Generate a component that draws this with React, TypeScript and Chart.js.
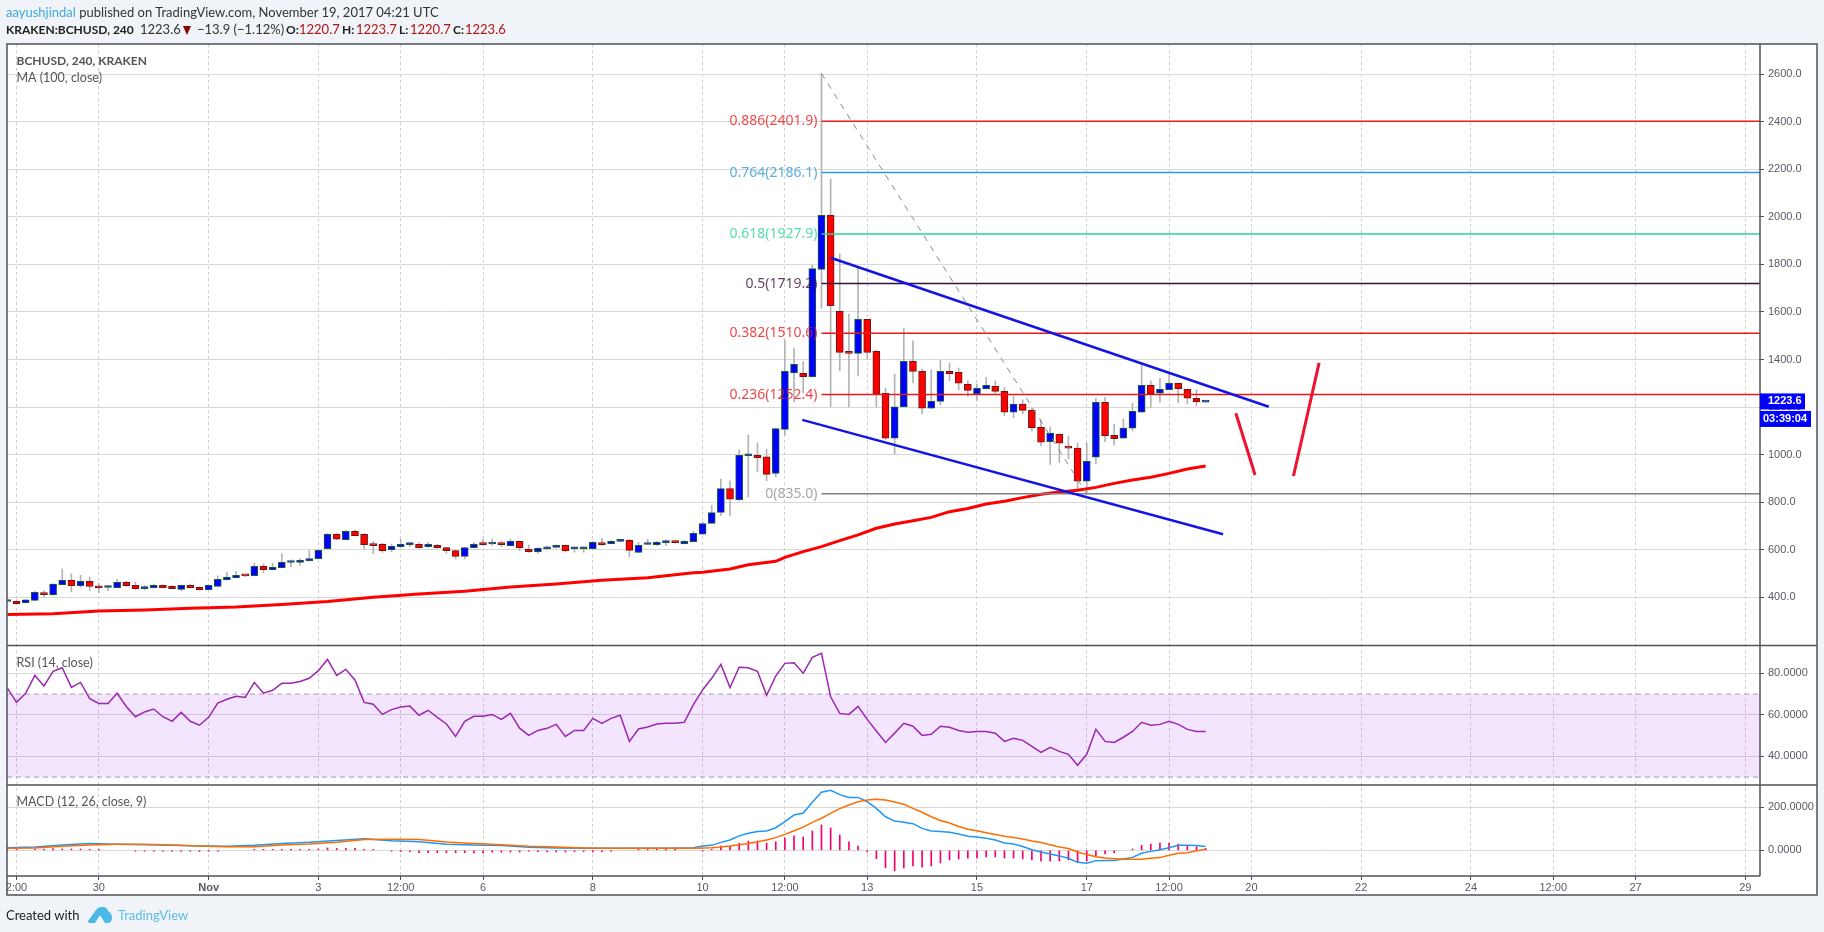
import { useEffect, useRef } from "react";
import { Chart, registerables } from "chart.js";

Chart.register(...registerables);

// candles are 4h bars, index -1 is the partly hidden first one
const firstCandle = -1;
const opens = [382,383,377,387,417,411,453,471,449,467,446,441,440,463,450,436,440,450,446,433,450,442,432,445,474,482,492,491,530,516,524,546,546,554,562,604,665,642,677,665,624,623,600,613,621,623,613,618,609,596,572,609,624,624,630,617,635,602,592,604,610,618,604,604,604,627,625,635,639,588,622,621,630,635,625,634,665,711,757,857,810,995,997,991,921,1106,1344,1342,1328,1779,2006,1603,1430,1426,1569,1434,1258,1069,1201,1392,1350,1195,1224,1350,1346,1296,1256,1277,1287,1266,1178,1212,1186,1115,1054,1085,1031,1027,888,989,1220,1081,1069,1111,1178,1291,1258,1273,1300,1275,1237,1220.7];
const highs = [385,389,390,424,428,456,518,498,492,484,459,450,475,467,464,450,455,453,449,451,455,445,453,490,506,509,493,544,539,544,583,557,562,595,599,669,669,680,683,668,635,627,624,644,630,630,631,623,610,599,610,631,644,645,634,645,637,620,609,616,620,620,610,613,635,648,638,640,644,631,645,635,641,638,638,677,715,787,897,889,1019,1082,1049,1022,1112,1482,1447,1391,1797,2603,2159,1844,1591,1783,1569,1440,1279,1339,1531,1478,1359,1356,1398,1385,1364,1310,1297,1325,1310,1283,1246,1230,1195,1146,1117,1087,1078,1048,1048,1237,1241,1127,1150,1216,1380,1310,1322,1344,1302,1276,1272,1223.7];
const lows = [381,372,376,386,403,408,453,422,442,428,419,428,439,445,433,432,439,439,435,428,439,431,431,443,473,481,487,490,503,515,523,529,534,553,561,603,641,641,658,603,583,588,592,610,613,607,610,606,585,561,561,607,618,618,613,616,596,589,583,602,607,590,590,590,603,618,624,634,571,586,621,617,617,627,624,633,664,710,743,743,806,823,928,890,906,1082,1222,1259,1326,1615,1201,1353,1200,1331,1402,1200,1064,1003,1200,1301,1171,1193,1209,1311,1272,1246,1227,1276,1258,1164,1155,1172,1100,1037,959,966,982,855,835,961,1054,1040,1067,1100,1176,1199,1221,1272,1218,1213,1206,1220.7];
const closes = [384,373,389,421,411,455,471,449,467,445,440,443,463,449,436,443,450,440,436,450,440,432,450,475,485,492,490,530,516,526,547,548,555,563,597,665,644,677,659,621,617,596,614,623,627,609,623,609,596,572,609,623,621,630,621,635,609,592,606,610,618,595,610,610,631,621,635,639,597,618,624,631,632,630,635,669,710,756,857,812,997,999,987,917,1109,1350,1380,1328,1782,2006,1626,1430,1426,1569,1430,1254,1069,1201,1392,1350,1195,1224,1350,1340,1300,1270,1279,1291,1266,1178,1212,1186,1113,1052,1090,1048,1027,888,972,1220,1080,1067,1111,1182,1291,1256,1275,1300,1277,1237,1222,1223.6];

const maIndex = [-1,4,9,14,19,24,29,34,39,44,49,54,59,64,69,74,75,78,80,83,84,86,88,90,92,94,96,98,100,102,104,106,108,110,112,114,116,118,120,122,124,126,128,130];
const maValues = [327,331,342,346,354,359,369,382,400,414,425,443,456,471,482,503,505,519,537,551,568,592,613,638,662,690,708,722,736,760,773,792,804,819,833,843,850,862,879,893,905,921,939,952];

const rsiValues = [72.8,66,70.4,79,73.9,81,82.7,73.2,75.6,67.8,65.5,65.5,70.4,64,59.1,61.4,62.8,59.1,56.9,61.2,56.9,55,58.8,65.7,67.5,68.9,68.4,75.6,70.4,71.8,75.2,75.2,76.1,77.6,81.3,86.7,79,81.9,76.8,66,65.1,60.2,62.5,63.8,64.2,59.8,62.2,58.8,55.6,49.6,56.9,59.3,59.3,60.2,57.8,60.7,53.6,50.1,52.5,53.5,55.4,49.6,52.5,52.5,58.3,55.9,58.3,59.8,47.2,53.2,54.1,55.6,55.9,55.9,56.4,64.9,72,77.6,84.3,73.1,82.9,82.7,81,69.4,78.7,84.8,85.1,80,87.7,89.6,68.7,60.7,60.2,64.1,57.8,52.2,46.7,51.2,55.9,54.5,50.1,50.6,54.5,54,52.5,51.6,52,52,51.1,47.2,48.7,47.7,44.8,41.9,44.3,42.4,41,35.7,41,53,47.2,46.7,49.2,52,56.4,55,55.4,56.9,55.4,53,52,52];

const macdIndex = [-1,2,5,8,11,14,17,20,23,26,29,32,35,38,41,44,47,50,53,56,59,62,65,68,71,74,75,76,77,78,79,80,81,82,83,84,85,86,87,88,89,90,91,92,93,94,95,96,97,98,99,100,101,102,103,104,105,106,107,108,109,110,111,112,113,114,115,116,117,118,119,120,121,122,123,124,125,126,127,128,129,130];
const macdValues = [12,15,25,32,28,26,23,20,19,23,32,37,46,54,45,40,28,25,22,14,11,9,9,9,9,12,20,23,37,48,67,79,87,90,105,133,164,173,223,270,279,259,246,246,226,195,156,136,130,124,102,90,88,84,76,65,62,56,48,34,29,18,3,-8,-17,-26,-37,-56,-60,-48,-47,-47,-40,-33,-14,-5,3,12,23,23,22,18];
const signalValues = [9,11,19,25,28,28,25,20,17,17,25,29,37,50,51,50,39,32,26,19,15,11,9,9,9,9,11,12,15,20,26,32,40,48,59,74,91,108,130,149,172,194,211,226,234,237,234,225,214,195,177,156,139,127,111,98,91,82,73,65,60,53,43,36,26,15,8,-8,-20,-30,-36,-39,-42,-42,-42,-37,-34,-23,-14,-11,-2,5];
const histValues = [5,3,0,2,3,8,6,6,6,2,2,0,0,0,-4,-3,-3,-3,-5,-5,-5,-6,-5,-3,0,0,0,2,2,2,3,3,2,2,6,11,9,9,9,5,3,0,-3,-6,-6,-11,-11,-11,-11,-11,-11,-12,-12,-9,-9,-8,-8,-3,-6,-8,-8,-8,-6,-6,-8,-6,-3,0,0,3,3,3,3,3,0,0,-2,4,20,19,33,43,43,33,39,57,67,62,90,118,104,71,39,20,-8,-39,-81,-96,-82,-73,-78,-73,-59,-45,-40,-36,-36,-31,-31,-36,-36,-40,-45,-50,-50,-50,-45,-54,-50,-26,-17,-12,0,6,23,29,34,34,29,20,17,9];

const priceTicks = [400,600,800,1000,1200,1400,1600,1800,2000,2200,2400,2600];
const rsiTicks = [40,60,80];
const macdTicks = [0,200];
const timeTickIndex = [0,9,21,33,42,51,63,75,84,93,105,117,126,135,147,159,168,177,189];
const timeTickLabels = ["2:00","30","Nov","3","12:00","6","8","10","12:00","13","15","17","12:00","20","22","24","12:00","27","29"];

const fibRatios = ["0.886","0.764","0.618","0.5","0.382","0.236","0"];
const fibPrices = [2401.9,2186.1,1927.9,1719.2,1510.6,1252.4,835.0];
const fibColors = ["#ee1c1c","#2f9bd6","#2ad39c","#3a1238","#e81818","#e81818","#808080"];
const fibStart = 88;

const xMin = -1.04;
const xMax = 190.6;
const lastPrice = 1223.6;
const countdown = "03:39:04";

const fontAxis = "'Liberation Sans', Arial, sans-serif";
const fontHead = "Lato, Tahoma, sans-serif";
const fontFib = "'Noto Sans', Tahoma, sans-serif";
const darkLine = "#4f535b";

const candleIdx = opens.map((_, i) => firstCandle + i);
const isUp = opens.map((o, i) => closes[i] >= o);

const xy = (xs: number[], ys: number[]) => xs.map((x, i) => ({ x, y: ys[i] }));
const segment = (x1: number, y1: number, x2: number, y2: number) => [{ x: x1, y: y1 }, { x: x2, y: y2 }];

const line = (data: any[], yAxisID: string, color: string, width: number, order: number, extra: any = {}) => ({
  type: "line",
  data,
  yAxisID,
  borderColor: color,
  borderWidth: width,
  pointRadius: 0,
  tension: 0,
  order,
  ...extra,
});

const panePlugin = {
  id: "panes",
  beforeDraw(chart: any) {
    const { ctx, chartArea, scales } = chart;
    ctx.save();
    ctx.fillStyle = "#ffffff";
    ctx.fillRect(chartArea.left, chartArea.top, chart.width - chartArea.left - 7, scales.x.bottom - chartArea.top);
    ctx.restore();
  },
  afterDatasetsDraw(chart: any) {
    const { ctx, scales } = chart;
    ctx.save();
    ctx.textBaseline = "middle";
    // fib level labels sit left of where the levels start
    ctx.textAlign = "right";
    ctx.font = `14px ${fontFib}`;
    const labelX = scales.x.getPixelForValue(fibStart) - 4;
    fibRatios.forEach((r, i) => {
      ctx.fillStyle = fibColors[i];
      ctx.globalAlpha = i === 6 ? 0.7 : 0.8;
      ctx.fillText(`${r}(${fibPrices[i].toFixed(1)})`, labelX, scales.y.getPixelForValue(fibPrices[i]));
    });
    ctx.globalAlpha = 1;
    ctx.textAlign = "left";
    ctx.fillStyle = "#555555";
    const textX = scales.x.getPixelForValue(0);
    ctx.font = `bold 12px ${fontHead}`;
    ctx.fillText("BCHUSD, 240, KRAKEN", textX, scales.y.top + 17);
    ctx.font = `12.5px ${fontHead}`;
    ctx.fillText("MA (100, close)", textX, scales.y.top + 34);
    ctx.fillText("RSI (14, close)", textX, scales.rsi.top + 17);
    ctx.fillText("MACD (12, 26, close, 9)", textX, scales.macd.top + 17);
    ctx.restore();
  },
  afterDraw(chart: any) {
    const { ctx, chartArea, scales } = chart;
    const frameRight = chart.width - 7;
    const frameBottom = scales.x.bottom;
    ctx.save();
    ctx.strokeStyle = darkLine;
    ctx.lineWidth = 1.5;
    ctx.strokeRect(chartArea.left, chartArea.top, frameRight - chartArea.left, frameBottom - chartArea.top);
    ctx.beginPath();
    ctx.moveTo(chartArea.right, chartArea.top);
    ctx.lineTo(chartArea.right, chartArea.bottom);
    [scales.rsi.top, scales.macd.top].forEach((y: number) => {
      ctx.moveTo(chartArea.left, y);
      ctx.lineTo(frameRight, y);
    });
    ctx.moveTo(chartArea.left, chartArea.bottom);
    ctx.lineTo(chartArea.right, chartArea.bottom);
    ctx.stroke();

    // last price and bar countdown flags on the price axis
    const py = scales.y.getPixelForValue(lastPrice);
    ctx.fillStyle = "#0000ff";
    ctx.fillRect(chartArea.right, py - 8, 45, 16);
    ctx.fillRect(chartArea.right, py + 9.5, 51, 16);
    ctx.fillStyle = "#ffffff";
    ctx.textBaseline = "middle";
    ctx.textAlign = "left";
    ctx.font = `bold 11px ${fontAxis}`;
    ctx.fillText(lastPrice.toFixed(1), chartArea.right + 8, py);
    ctx.fillText(countdown, chartArea.right + 3, py + 17.5);
    ctx.restore();
  },
};

const yScale = (stackWeight: number, min: number, max: number, tickValues: number[], digits: number) => ({
  type: "linear",
  position: "right",
  stack: "panes",
  stackWeight,
  min,
  max,
  afterBuildTicks: (s: any) => {
    s.ticks = tickValues.map((value) => ({ value }));
  },
  afterFit: (s: any) => {
    s.width = 57;
  },
  border: { display: false },
  grid: { color: "#d8d8d8", lineWidth: 1, tickColor: darkLine, tickLength: 4 },
  ticks: {
    color: "#555a63",
    padding: 4,
    font: { family: fontAxis, size: 11 },
    callback: (v: any) => Number(v).toFixed(digits),
  },
});

export default function App() {
  const canvasRef = useRef<HTMLCanvasElement>(null);

  useEffect(() => {
    if (!canvasRef.current) return;

    const chart = new Chart(canvasRef.current, {
      data: {
        datasets: [
          {
            type: "bar",
            data: candleIdx.map((x, i) => ({ x, y: [lows[i], highs[i]] })),
            yAxisID: "y",
            backgroundColor: "#b4b4b4",
            barThickness: 1,
            grouped: false,
            order: 11,
          },
          {
            type: "bar",
            data: candleIdx.map((x, i) => ({ x, y: [opens[i], closes[i]] })),
            yAxisID: "y",
            backgroundColor: isUp.map((u) => (u ? "#0000ff" : "#ff0000")),
            borderColor: isUp.map((u) => (u ? "#1c5c34" : "#6b1616")),
            borderWidth: 1,
            borderSkipped: false,
            barThickness: 7,
            minBarLength: 2,
            grouped: false,
            order: 10,
          },
          line(xy(maIndex, maValues), "y", "#ff0000", 3, 9),
          ...fibPrices.map((p, i) => line(segment(fibStart, p, xMax, p), "y", fibColors[i], 1.5, 8)),
          line(segment(88, 2603, 117, 835), "y", "#8a8a8a", 1, 7, { borderDash: [6, 6] }),
          line(segment(89, 1828, 136.9, 1201), "y", "#1414e6", 2.5, 6),
          line(segment(85.9, 1146, 131.9, 665), "y", "#1414e6", 2.5, 6),
          line(segment(133.3, 1174, 135.4, 914), "y", "#f01030", 3, 6),
          line(segment(139.6, 910, 142.4, 1386), "y", "#f01030", 3, 6),
          line(segment(xMin, 70, xMax, 70), "rsi", "#b9aebd", 1.2, 15, {
            borderDash: [5, 4],
            fill: "+1",
            backgroundColor: "rgba(150,40,240,0.12)",
          }),
          line(segment(xMin, 30, xMax, 30), "rsi", "#b9aebd", 1.2, 15, { borderDash: [5, 4] }),
          line(xy(candleIdx, rsiValues), "rsi", "#9c27b0", 1.5, 5),
          {
            type: "bar",
            data: candleIdx.map((x, i) => ({ x, y: histValues[i] })).filter((d) => d.y !== 0),
            yAxisID: "macd",
            backgroundColor: "#f5006e",
            barThickness: 1,
            minBarLength: 1,
            grouped: false,
            order: 5,
          },
          line(xy(macdIndex, macdValues), "macd", "#2196f3", 1.5, 4),
          line(xy(macdIndex, signalValues), "macd", "#ff6d00", 1.5, 3),
        ] as any,
      },
      options: {
        responsive: false,
        animation: false,
        events: [],
        layout: { padding: { left: 7, right: 7, top: 44, bottom: 37 } },
        plugins: { legend: { display: false }, tooltip: { enabled: false } },
        scales: {
          x: {
            type: "linear",
            offset: false,
            min: xMin,
            max: xMax,
            afterBuildTicks: (s: any) => {
              s.ticks = timeTickIndex.map((value) => ({ value }));
            },
            afterFit: (s: any) => {
              s.height = 19;
            },
            border: { display: false, dash: [3, 3] },
            grid: { offset: false, color: "#cfcfcf", lineWidth: 1, tickColor: darkLine, tickLength: 4 },
            ticks: {
              color: "#555a63",
              padding: 1,
              autoSkip: false,
              maxRotation: 0,
              font: (ctx: any) => ({
                family: fontAxis,
                size: 11,
                weight: ctx.tick?.label === "Nov" ? "bold" : "normal",
              }),
              callback: (v: any) => timeTickLabels[timeTickIndex.indexOf(Number(v))],
            },
          },
          y: yScale(601.5, 197, 2727, priceTicks, 1),
          rsi: yScale(139.5, 26.2, 93.4, rsiTicks, 4),
          macd: yScale(91, -119.5, 303.7, macdTicks, 4),
        } as any,
      },
      plugins: [panePlugin],
    } as any);

    return () => chart.destroy();
  }, []);

  const head: React.CSSProperties = { position: "absolute", whiteSpace: "nowrap", font: `13px ${fontHead}`, color: "#333" };
  const bold: React.CSSProperties = { ...head, fontSize: 12, fontWeight: "bold", color: "#222" };
  const red = "#b01515";

  return (
    <div style={{ position: "fixed", inset: 0, width: 1824, height: 932, background: "#f0f3f7", overflow: "hidden" }}>
      <canvas ref={canvasRef} width={1824} height={932} style={{ position: "absolute", left: 0, top: 0 }} />
      <div style={{ ...head, left: 6, top: 4 }}>
        <span style={{ color: "#3fa9dc" }}>aayushjindal</span> published on TradingView.com, November 19, 2017 04:21 UTC
      </div>
      <div style={{ ...bold, left: 6, top: 22 }}>KRAKEN:BCHUSD, 240</div>
      <div style={{ ...head, left: 140, top: 21 }}>1223.6</div>
      <div style={{ position: "absolute", left: 183, top: 26, width: 0, height: 0, borderLeft: "4.5px solid transparent", borderRight: "4.5px solid transparent", borderTop: "9px solid #8b0000" }} />
      <div style={{ ...head, left: 197, top: 21 }}>−13.9 (−1.12%)</div>
      <div style={{ ...bold, left: 286, top: 22 }}>O:</div>
      <div style={{ ...head, left: 299, top: 21, color: red }}>1220.7</div>
      <div style={{ ...bold, left: 342, top: 22 }}>H:</div>
      <div style={{ ...head, left: 356, top: 21, color: red }}>1223.7</div>
      <div style={{ ...bold, left: 399, top: 22 }}>L:</div>
      <div style={{ ...head, left: 410, top: 21, color: red }}>1220.7</div>
      <div style={{ ...bold, left: 453, top: 22 }}>C:</div>
      <div style={{ ...head, left: 465, top: 21, color: red }}>1223.6</div>
      <div style={{ ...head, left: 6, top: 907, color: "#222" }}>Created with</div>
      <svg width="26" height="20" viewBox="0 0 26 20" style={{ position: "absolute", left: 87, top: 904 }}>
        <path d="M1 17 L9 6 Q11 3 14 3 Q19 2 21 7 Q25 9 25 14 Q25 19 20 19 L18 19 L13 11 L8 19 L4 19 Q1 19 1 17 Z" fill="#4cb8e6" />
      </svg>
      <div style={{ ...head, left: 118, top: 907, color: "#5bbde8" }}>TradingView</div>
    </div>
  );
}
